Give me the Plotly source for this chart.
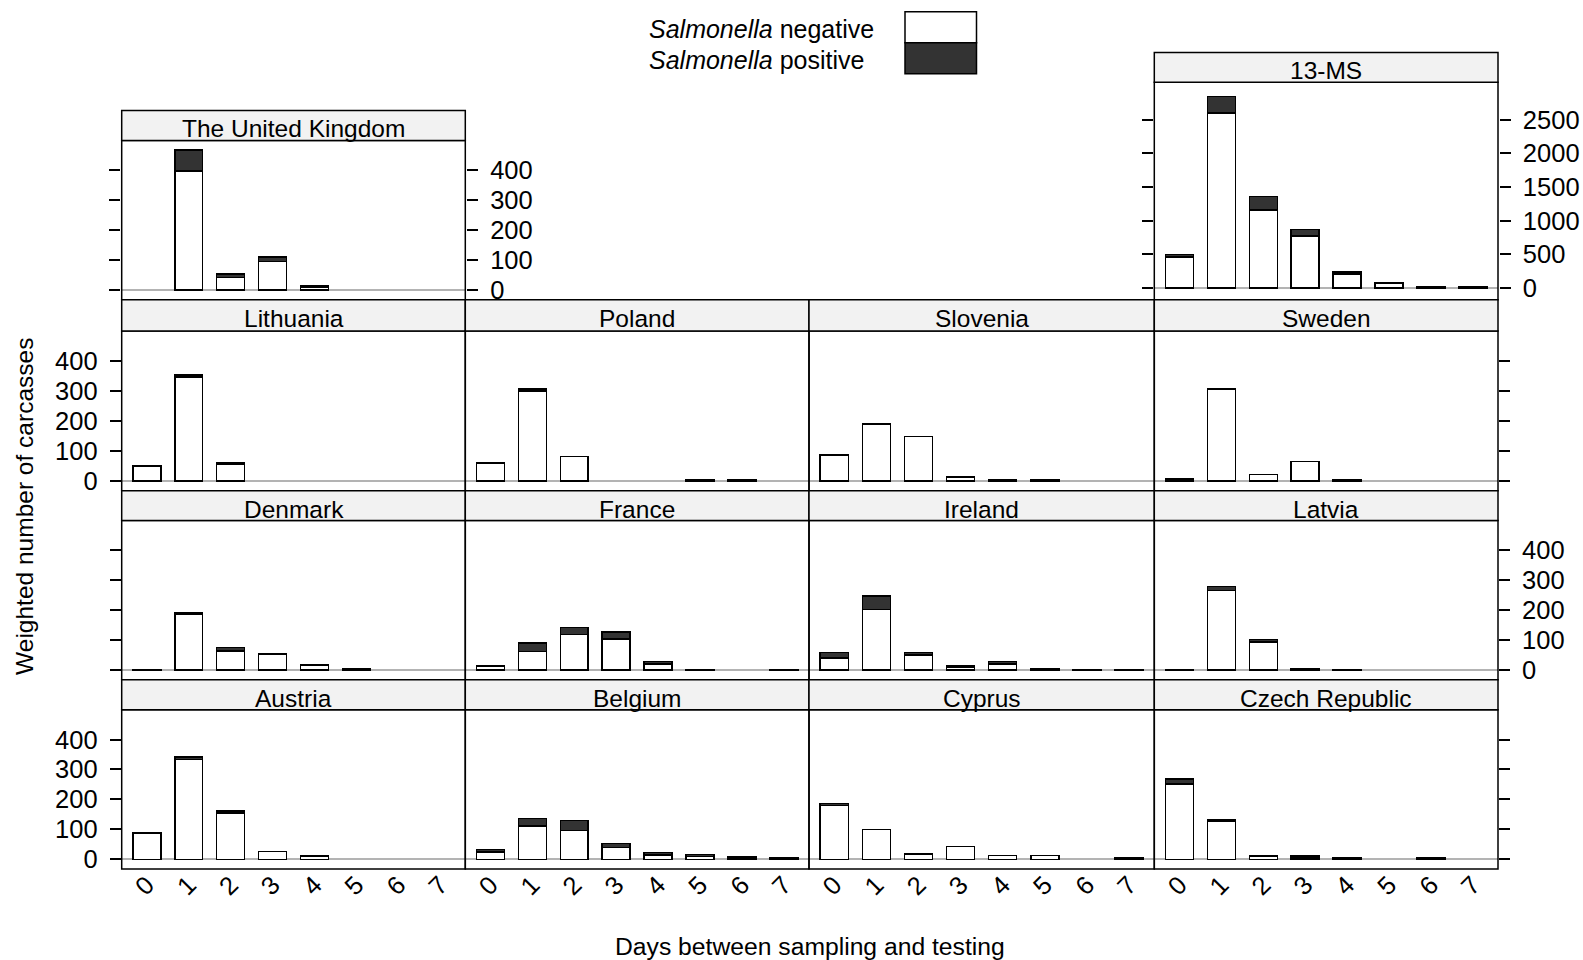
import plotly.graph_objects as go

W, H = 1583, 960

# ---------------- data ----------------
days = [0, 1, 2, 3, 4, 5, 6, 7]
day_labels = ["0", "1", "2", "3", "4", "5", "6", "7"]

uk_neg = [None, 398, 42, 95, 10, None, None, None]
uk_pos = [None, 69, 11, 15, 3, None, None, None]
ms13_neg = [460, 2600, 1160, 770, 210, 65, 12, 12]
ms13_pos = [35, 245, 200, 100, 28, 8, 10, 10]
lithuania_neg = [49, 346, 56, None, None, None, None, None]
lithuania_pos = [None, 8, 5, None, None, None, None, None]
poland_neg = [59, 300, 81, None, None, 2, 2, None]
poland_pos = [None, 7, None, None, None, None, None, None]
slovenia_neg = [86, 190, 148, 13, 2, 2, None, None]
slovenia_pos = [None, None, None, None, None, None, None, None]
sweden_neg = [5, 306, 22, 64, 2, None, None, None]
sweden_pos = [3, None, None, None, None, None, None, None]
denmark_neg = [2, 188, 63, 54, 16, 4, None, None]
denmark_pos = [None, 3, 13, 2, 2, 2, None, None]
france_neg = [13, 62, 119, 103, 21, 2, None, 2]
france_pos = [None, 28, 24, 25, 7, None, None, None]
ireland_neg = [41, 203, 51, 10, 20, 4, 2, 2]
ireland_pos = [18, 45, 8, 3, 8, 1, None, None]
latvia_neg = [2, 266, 94, 3, 2, None, None, None]
latvia_pos = [None, 13, 8, 3, None, None, None, None]
austria_neg = [88, 334, 154, 26, 11, None, None, None]
austria_pos = [None, 7, 7, None, None, None, None, None]
belgium_neg = [25, 112, 96, 39, 15, 10, 3, 2]
belgium_pos = [7, 24, 34, 14, 7, 6, 4, 3]
cyprus_neg = [180, 99, 18, 43, 12, 12, None, 2]
cyprus_pos = [6, None, None, None, None, None, None, 2]
czech_neg = [251, 126, 9, 4, 2, None, 2, None]
czech_pos = [17, 5, 3, 7, 2, None, 2, None]

common_ticks = [0, 100, 200, 300, 400]
ms13_ticks = [0, 500, 1000, 1500, 2000, 2500]

panel_data = [
    ("The United Kingdom", uk_neg, uk_pos),
    ("13-MS", ms13_neg, ms13_pos),
    ("Lithuania", lithuania_neg, lithuania_pos),
    ("Poland", poland_neg, poland_pos),
    ("Slovenia", slovenia_neg, slovenia_pos),
    ("Sweden", sweden_neg, sweden_pos),
    ("Denmark", denmark_neg, denmark_pos),
    ("France", france_neg, france_pos),
    ("Ireland", ireland_neg, ireland_pos),
    ("Latvia", latvia_neg, latvia_pos),
    ("Austria", austria_neg, austria_pos),
    ("Belgium", belgium_neg, belgium_pos),
    ("Cyprus", cyprus_neg, cyprus_pos),
    ("Czech Republic", czech_neg, czech_pos),
]

# ---------------- layout geometry (pixels) ----------------
cols = [(121.7, 465.3), (465.3, 809.0), (809.0, 1154.3), (1154.3, 1498.0)]
rows = {
    "uk": ((111.0, 141.0), (141.0, 301.0)),
    "ms": ((52.7, 82.5), (82.5, 301.0)),
    2: ((301.0, 332.5), (332.5, 492.7)),
    3: ((492.7, 522.7), (522.7, 682.7)),
    4: ((682.7, 712.7), (712.7, 872.7)),
}
# name: (col, row, y-axis side, ticks?, labels?, ticks on both sides?)
placement = {
    "The United Kingdom": (0, "uk", "right", True, True, True),
    "13-MS": (3, "ms", "right", True, True, True),
    "Lithuania": (0, 2, "left", True, True, False),
    "Poland": (1, 2, "left", False, False, False),
    "Slovenia": (2, 2, "left", False, False, False),
    "Sweden": (3, 2, "right", True, False, False),
    "Denmark": (0, 3, "left", True, False, False),
    "France": (1, 3, "left", False, False, False),
    "Ireland": (2, 3, "left", False, False, False),
    "Latvia": (3, 3, "right", True, True, False),
    "Austria": (0, 4, "left", True, True, False),
    "Belgium": (1, 4, "left", False, False, False),
    "Cyprus": (2, 4, "left", False, False, False),
    "Czech Republic": (3, 4, "right", True, False, False),
}

FONT = "Arial, 'Liberation Sans', sans-serif"
NEG_COL = "#ffffff"
POS_COL = "#333333"
LW = 1.5
TICK_FS = 25.5
STRIP_FS = 24.5

def px_x(p):
    return p / W

def px_y(p):
    return 1 - p / H

fig = go.Figure()
layout = {}
shapes = []
annotations = []

for k, (name, neg, pos) in enumerate(panel_data, start=1):
    col, row, side, has_ticks, has_labels, both = placement[name]
    (s0, s1), (p0, p1) = rows[row]
    x0, x1 = cols[col]
    xa = "x" if k == 1 else f"x{k}"
    ya = "y" if k == 1 else f"y{k}"
    fig.add_trace(go.Bar(x=days, y=neg, xaxis=xa, yaxis=ya,
                         marker=dict(color=NEG_COL, line=dict(color="black", width=LW)),
                         showlegend=False, hoverinfo="x+y"))
    fig.add_trace(go.Bar(x=days, y=pos, xaxis=xa, yaxis=ya,
                         marker=dict(color=POS_COL, line=dict(color="black", width=LW)),
                         showlegend=False, hoverinfo="x+y"))

    is_ms = name == "13-MS"
    yrange = [-175, 3060] if is_ms else [-32.7, 499.7]
    yticks = ms13_ticks if is_ms else common_ticks
    bottom_row = row == 4

    layout["xaxis" if k == 1 else f"xaxis{k}"] = dict(
        domain=[px_x(x0), px_x(x1)], anchor=ya, range=[-0.6, 7.6],
        tickmode="array", tickvals=days, ticktext=day_labels,
        showticklabels=bottom_row, ticks="",
        tickangle=-45, ticklabelstandoff=-5,
        tickfont=dict(size=TICK_FS, family=FONT, color="black"),
        showline=False, showgrid=False, zeroline=False, fixedrange=True,
    )
    layout["yaxis" if k == 1 else f"yaxis{k}"] = dict(
        domain=[px_y(p1), px_y(p0)], anchor=xa, range=yrange, side=side,
        tickmode="array", tickvals=yticks,
        ticks="outside" if has_ticks else "", ticklen=11, tickwidth=LW, tickcolor="black",
        showticklabels=has_labels, ticklabelstandoff=7,
        tickfont=dict(size=TICK_FS, family=FONT, color="black"),
        showline=both, linecolor="rgba(0,0,0,0)", linewidth=LW,
        mirror="allticks" if both else False,
        showgrid=False, zeroline=True, zerolinecolor="#b3b3b3", zerolinewidth=1.5,
        fixedrange=True,
    )
    # panel frame
    shapes.append(dict(type="rect", xref="paper", yref="paper",
                       x0=px_x(x0), x1=px_x(x1), y0=px_y(p1), y1=px_y(p0),
                       fillcolor="rgba(0,0,0,0)", line=dict(color="black", width=LW),
                       layer="above"))
    # strip
    shapes.append(dict(type="rect", xref="paper", yref="paper",
                       x0=px_x(x0), x1=px_x(x1), y0=px_y(s1), y1=px_y(s0),
                       fillcolor="#f2f2f2", line=dict(color="black", width=LW), layer="above"))
    annotations.append(dict(text=name, xref="paper", yref="paper",
                            x=px_x((x0 + x1) / 2), y=px_y((s0 + s1) / 2 + 3.5),
                            xanchor="center", yanchor="middle", showarrow=False,
                            font=dict(size=STRIP_FS, family=FONT, color="black")))

# legend (key)
key_x0, key_x1 = 905.0, 976.5
key_rows = [(11.7, 42.9, NEG_COL, "<i>Salmonella</i> negative", 29.5),
            (42.9, 74.0, POS_COL, "<i>Salmonella</i> positive", 60.0)]
for (t0, t1, colr, label, ty) in key_rows:
    shapes.append(dict(type="rect", xref="paper", yref="paper",
                       x0=px_x(key_x0), x1=px_x(key_x1), y0=px_y(t1), y1=px_y(t0),
                       fillcolor=colr, line=dict(color="black", width=LW)))
    annotations.append(dict(text=label, xref="paper", yref="paper",
                            x=px_x(647), y=px_y(ty), xanchor="left", yanchor="middle",
                            showarrow=False, font=dict(size=25, family=FONT, color="black")))

# axis titles
annotations.append(dict(text="Days between sampling and testing", xref="paper", yref="paper",
                        x=px_x(810), y=px_y(950), xanchor="center", yanchor="middle",
                        showarrow=False, font=dict(size=24.7, family=FONT, color="black")))
annotations.append(dict(text="Weighted number of carcasses", xref="paper", yref="paper",
                        x=px_x(25), y=px_y(509), xanchor="center", yanchor="middle",
                        textangle=-90, showarrow=False,
                        font=dict(size=24.5, family=FONT, color="black")))

fig.update_layout(
    width=W, height=H, margin=dict(l=0, r=0, t=0, b=0),
    paper_bgcolor="white", plot_bgcolor="white",
    barmode="stack", bargap=1 / 3,
    font=dict(family=FONT, color="black"),
    shapes=shapes, annotations=annotations, showlegend=False,
    **layout,
)

fig.write_html("out.html")
